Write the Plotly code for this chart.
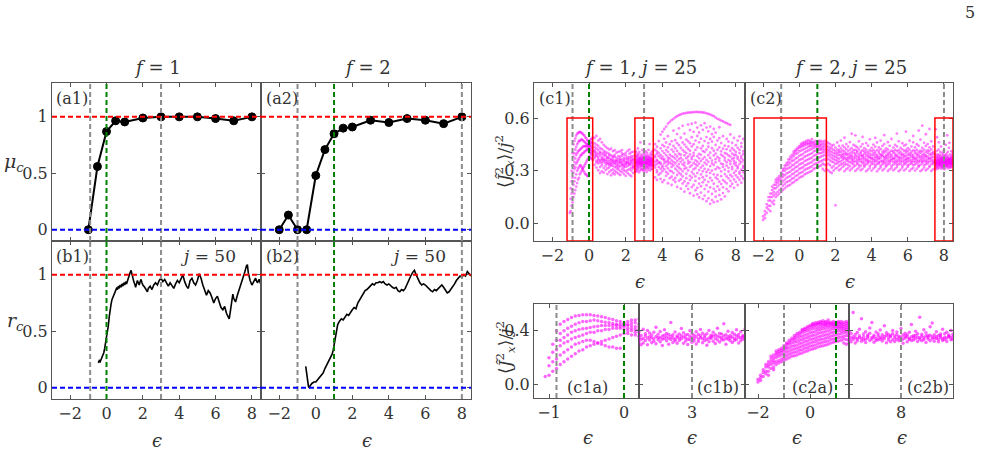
import plotly.graph_objects as go

W, H = 986, 451

# ---------------- data ----------------
a1_eps = [-1, -0.5, 0, 0.5, 1, 2, 3, 4, 5, 6, 7, 8]
a1_mu = [0.0, 0.56, 0.87, 0.965, 0.955, 0.99, 1.0, 1.0, 1.0, 0.985, 0.965, 1.0]
a2_eps = [-2, -1.5, -1, -0.5, 0, 0.5, 1, 1.5, 2, 3, 4, 5, 6, 7, 8]
a2_mu = [0.0, 0.13, 0.0, 0.0, 0.48, 0.71, 0.85, 0.90, 0.91, 0.97, 0.95, 0.985, 0.97, 0.94, 1.0]

b1_eps = [-0.45, -0.4, -0.35, -0.3, -0.25, -0.2, -0.15, -0.1, -0.05, 0.0, 0.05, 0.1, 0.15, 0.2, 0.25,
          0.3, 0.35, 0.4, 0.5, 0.55, 0.6, 0.65, 0.7, 0.75, 0.8, 0.85, 0.9, 0.95, 1.0, 1.05, 1.1, 1.15,
          1.2, 1.25, 1.3, 1.35, 1.4, 1.45, 1.5, 1.55, 1.6, 1.65, 1.7, 1.75, 1.8, 1.85, 1.9, 1.95, 2.0,
          2.1, 2.2, 2.25, 2.3, 2.4, 2.5, 2.6, 2.7, 2.8, 2.9, 3.0, 3.1, 3.2, 3.3, 3.4, 3.5, 3.6, 3.7,
          3.8, 3.9, 4.0, 4.1, 4.2, 4.3, 4.4, 4.5, 4.6, 4.7, 4.8, 4.9, 5.0, 5.1, 5.2, 5.3, 5.4, 5.5,
          5.6, 5.7, 5.8, 5.9, 6.0, 6.1, 6.2, 6.3, 6.4, 6.5, 6.6, 6.7, 6.75, 6.8, 6.9, 6.95, 7.0, 7.1,
          7.2, 7.3, 7.4, 7.5, 7.6, 7.7, 7.75, 7.8, 7.9, 8.0, 8.1, 8.2, 8.3, 8.4, 8.5]
b1_r = [0.22, 0.24, 0.23, 0.25, 0.26, 0.29, 0.31, 0.35, 0.40, 0.44, 0.48, 0.55, 0.63, 0.70, 0.74,
        0.78, 0.80, 0.82, 0.86, 0.88, 0.87, 0.90, 0.88, 0.91, 0.89, 0.92, 0.90, 0.93, 0.91, 0.94, 0.92, 0.95,
        0.97, 0.99, 1.02, 1.04, 1.0, 0.97, 0.94, 0.92, 0.89, 0.92, 0.95, 0.93, 0.91, 0.94, 0.96, 0.93, 0.91,
        0.89, 0.87, 0.85, 0.88, 0.90, 0.87, 0.91, 0.93, 0.91, 0.95, 0.97, 0.94, 0.96, 0.93, 0.90, 0.93, 0.90, 0.88,
        0.92, 0.95, 0.93, 0.97, 1.0, 0.94, 0.90, 0.88, 0.95, 0.97, 0.93, 0.91, 0.95, 1.01, 0.97, 0.91, 0.86, 0.82,
        0.86, 0.84, 0.80, 0.75, 0.79, 0.81, 0.76, 0.71, 0.69, 0.72, 0.66, 0.63, 0.61, 0.66, 0.78, 0.83, 0.79, 0.76,
        0.82, 0.87, 0.90, 0.96, 1.02, 1.08, 1.09, 1.02, 0.95, 0.91, 0.94, 0.97, 0.93, 0.96, 0.91]

b2_eps = [-0.55, -0.5, -0.45, -0.4, -0.35, -0.3, -0.2, -0.1, 0.0, 0.1, 0.2, 0.3, 0.4, 0.5, 0.6, 0.7,
          0.8, 0.9, 0.95, 1.0, 1.05, 1.1, 1.15, 1.2, 1.3, 1.4, 1.5, 1.6, 1.7, 1.8, 1.9, 2.0, 2.1, 2.2,
          2.3, 2.4, 2.5, 2.6, 2.7, 2.8, 2.9, 3.0, 3.1, 3.2, 3.3, 3.4, 3.5, 3.6, 3.7, 3.8, 3.9, 4.0, 4.1,
          4.2, 4.3, 4.4, 4.5, 4.6, 4.7, 4.8, 4.9, 5.0, 5.1, 5.2, 5.3, 5.4, 5.5, 5.6, 5.7, 5.8, 5.9, 6.0,
          6.1, 6.2, 6.3, 6.4, 6.5, 6.6, 6.7, 6.8, 6.9, 7.0, 7.1, 7.2, 7.3, 7.4, 7.5, 7.6, 7.7, 7.8, 7.9,
          8.0, 8.1, 8.2, 8.3, 8.4, 8.5]
b2_r = [0.19, 0.12, 0.05, 0.01, 0.00, 0.02, 0.04, 0.05, 0.05, 0.07, 0.09, 0.10, 0.13, 0.17, 0.20, 0.23,
        0.27, 0.30, 0.33, 0.38, 0.43, 0.48, 0.52, 0.56, 0.59, 0.61, 0.60, 0.63, 0.65, 0.64, 0.67, 0.69, 0.71, 0.70,
        0.75, 0.78, 0.80, 0.83, 0.86, 0.87, 0.89, 0.90, 0.92, 0.91, 0.93, 0.93, 0.94, 0.93, 0.94, 0.92, 0.91, 0.92, 0.90,
        0.89, 0.88, 0.89, 0.86, 0.85, 0.87, 0.86, 0.88, 0.92, 0.96, 0.99, 1.02, 1.04, 1.00, 0.96, 0.93, 0.91, 0.92, 0.91,
        0.89, 0.88, 0.86, 0.85, 0.87, 0.86, 0.88, 0.90, 0.91, 0.89, 0.87, 0.84, 0.85, 0.87, 0.90, 0.92, 0.95, 0.97, 0.99,
        0.98, 1.00, 0.99, 1.03, 1.01, 0.99]

# f=1, j=25 : eigenstate values, columns (epsilon, values)
c1_arc_cols = [
    (-1.05, [0.06]),
    (-1.0, [0.07, 0.14, 0.2]),
    (-0.95, [0.1, 0.17, 0.24, 0.3]),
    (-0.9, [0.12, 0.19, 0.26, 0.33, 0.40]),
    (-0.85, [0.15, 0.22, 0.29, 0.33, 0.38, 0.45]),
    (-0.8, [0.17, 0.24, 0.31, 0.35, 0.40, 0.47]),
    (-0.75, [0.19, 0.26, 0.32, 0.37, 0.42, 0.485]),
    (-0.7, [0.21, 0.28, 0.34, 0.39, 0.435, 0.50]),
    (-0.65, [0.23, 0.30, 0.35, 0.40, 0.45, 0.51]),
    (-0.6, [0.25, 0.31, 0.36, 0.41, 0.46, 0.515]),
    (-0.55, [0.26, 0.32, 0.37, 0.415, 0.47, 0.52]),
    (-0.5, [0.28, 0.33, 0.38, 0.42, 0.47, 0.52]),
    (-0.45, [0.29, 0.33, 0.39, 0.425, 0.475, 0.52]),
    (-0.4, [0.30, 0.32, 0.39, 0.43, 0.48, 0.515]),
    (-0.35, [0.31, 0.31, 0.40, 0.435, 0.475, 0.51]),
    (-0.3, [0.32, 0.30, 0.40, 0.44, 0.47, 0.505]),
    (-0.25, [0.29, 0.33, 0.41, 0.44, 0.465, 0.50]),
    (-0.2, [0.28, 0.34, 0.41, 0.44, 0.46, 0.49]),
    (-0.15, [0.28, 0.35, 0.42, 0.44, 0.455, 0.485]),
    (-0.1, [0.27, 0.36, 0.42, 0.44, 0.45, 0.475]),
    (-0.05, [0.27, 0.37, 0.42, 0.435, 0.45, 0.47]),
    (0.0, [0.38, 0.41, 0.43, 0.44, 0.45, 0.46]),
    (0.05, [0.38, 0.40, 0.42, 0.44, 0.45, 0.47]),
    (0.1, [0.37, 0.40, 0.42, 0.44, 0.46, 0.48]),
    (0.15, [0.37, 0.39, 0.41, 0.43, 0.46, 0.48]),
    (0.2, [0.36, 0.39, 0.41, 0.43, 0.45, 0.49]),
]
c1_band_cols = [
    (0.3, [0.334, 0.371, 0.398, 0.417, 0.436, 0.458, 0.487, 0.382, 0.409]),
    (0.4, [0.318, 0.356, 0.383, 0.404, 0.427, 0.449, 0.498, 0.391, 0.347]),
    (0.5, [0.303, 0.342, 0.367, 0.396, 0.418, 0.441, 0.472, 0.378, 0.357]),
    (0.6, [0.322, 0.349, 0.361, 0.387, 0.408, 0.429, 0.481, 0.402, 0.287]),
    (0.7, [0.297, 0.331, 0.358, 0.376, 0.397, 0.423, 0.462, 0.368, 0.343]),
    (0.8, [0.289, 0.316, 0.352, 0.369, 0.388, 0.413, 0.447, 0.361, 0.401]),
    (0.9, [0.304, 0.327, 0.341, 0.363, 0.384, 0.407, 0.438, 0.352, 0.393]),
    (1.0, [0.281, 0.313, 0.338, 0.358, 0.377, 0.402, 0.429, 0.346, 0.372]),
    (1.1, [0.293, 0.319, 0.333, 0.354, 0.371, 0.396, 0.421, 0.341, 0.386]),
    (1.2, [0.274, 0.302, 0.329, 0.347, 0.366, 0.388, 0.426, 0.337, 0.359]),
    (1.3, [0.286, 0.308, 0.327, 0.343, 0.362, 0.383, 0.412, 0.353, 0.376]),
    (1.4, [0.279, 0.298, 0.321, 0.339, 0.357, 0.379, 0.417, 0.348, 0.391]),
    (1.5, [0.291, 0.311, 0.324, 0.346, 0.361, 0.374, 0.403, 0.334, 0.356]),
    (1.6, [0.283, 0.306, 0.318, 0.341, 0.353, 0.368, 0.408, 0.329, 0.384]),
    (1.7, [0.276, 0.299, 0.326, 0.344, 0.359, 0.381, 0.411, 0.351, 0.369]),
    (1.8, [0.292, 0.312, 0.331, 0.348, 0.364, 0.386, 0.399, 0.338, 0.418]),
    (1.9, [0.281, 0.303, 0.319, 0.337, 0.354, 0.373, 0.394, 0.362, 0.328]),
    (2.0, [0.271, 0.297, 0.322, 0.336, 0.351, 0.369, 0.402, 0.344, 0.387]),
    (2.1, [0.287, 0.304, 0.327, 0.342, 0.358, 0.378, 0.413, 0.349, 0.368]),
    (2.2, [0.278, 0.309, 0.332, 0.347, 0.363, 0.376, 0.397, 0.339, 0.421]),
    (2.3, [0.269, 0.301, 0.317, 0.338, 0.356, 0.371, 0.404, 0.352, 0.383]),
    (2.4, [0.288, 0.313, 0.328, 0.343, 0.359, 0.382, 0.408, 0.324, 0.366]),
    (3.6, [0.262, 0.318, 0.331, 0.349, 0.377, 0.386, 0.421, 0.452]),
    (3.7, [0.291, 0.303, 0.339, 0.358, 0.362, 0.397, 0.411, 0.248, 0.437]),
    (3.8, [0.277, 0.322, 0.344, 0.351, 0.383, 0.402, 0.469]),
    (3.9, [0.254, 0.286, 0.311, 0.347, 0.373, 0.391, 0.428, 0.506, 0.338]),
    (4.0, [0.298, 0.319, 0.329, 0.366, 0.381, 0.412, 0.447, 0.523, 0.236]),
    (4.1, [0.247, 0.309, 0.342, 0.357, 0.368, 0.401, 0.439, 0.482, 0.538]),
    (4.2, [0.271, 0.293, 0.326, 0.351, 0.389, 0.418, 0.461, 0.552]),
    (4.3, [0.229, 0.283, 0.314, 0.337, 0.362, 0.376, 0.408, 0.433, 0.497, 0.569, 0.351]),
    (4.4, [0.258, 0.301, 0.346, 0.371, 0.392, 0.451, 0.578]),
    (4.5, [0.219, 0.266, 0.297, 0.322, 0.339, 0.359, 0.384, 0.421, 0.468, 0.588]),
    (4.6, [0.248, 0.287, 0.331, 0.351, 0.378, 0.409, 0.441, 0.529, 0.596]),
    (4.7, [0.236, 0.259, 0.312, 0.343, 0.369, 0.393, 0.428, 0.474, 0.604]),
    (4.8, [0.208, 0.276, 0.301, 0.327, 0.355, 0.382, 0.413, 0.457, 0.509, 0.611]),
    (4.9, [0.243, 0.289, 0.318, 0.338, 0.366, 0.397, 0.446, 0.617, 0.542]),
    (5.0, [0.198, 0.251, 0.279, 0.309, 0.351, 0.374, 0.392, 0.431, 0.488, 0.621]),
    (5.1, [0.227, 0.268, 0.297, 0.336, 0.362, 0.418, 0.461, 0.556, 0.625]),
    (5.2, [0.181, 0.239, 0.311, 0.329, 0.347, 0.388, 0.409, 0.449, 0.512, 0.627]),
    (5.3, [0.214, 0.258, 0.283, 0.317, 0.372, 0.401, 0.436, 0.478, 0.629]),
    (5.4, [0.196, 0.229, 0.302, 0.341, 0.357, 0.381, 0.424, 0.468, 0.563, 0.631]),
    (5.5, [0.172, 0.248, 0.271, 0.322, 0.348, 0.393, 0.414, 0.457, 0.532, 0.632]),
    (5.6, [0.207, 0.261, 0.293, 0.331, 0.366, 0.378, 0.439, 0.491, 0.568, 0.633]),
    (5.7, [0.158, 0.219, 0.281, 0.309, 0.345, 0.387, 0.402, 0.451, 0.522, 0.634]),
    (5.8, [0.189, 0.242, 0.268, 0.316, 0.337, 0.359, 0.419, 0.472, 0.574, 0.635]),
    (5.9, [0.166, 0.203, 0.287, 0.329, 0.352, 0.383, 0.433, 0.498, 0.546, 0.635]),
    (6.0, [0.148, 0.227, 0.256, 0.304, 0.341, 0.371, 0.396, 0.462, 0.518, 0.634]),
    (6.1, [0.176, 0.212, 0.279, 0.318, 0.356, 0.391, 0.428, 0.483, 0.559, 0.634]),
    (6.2, [0.139, 0.234, 0.263, 0.297, 0.329, 0.368, 0.412, 0.441, 0.533, 0.632]),
    (6.3, [0.158, 0.196, 0.248, 0.311, 0.347, 0.378, 0.407, 0.469, 0.571, 0.631]),
    (6.4, [0.127, 0.218, 0.271, 0.293, 0.336, 0.362, 0.421, 0.492, 0.546, 0.627]),
    (6.5, [0.143, 0.181, 0.237, 0.306, 0.351, 0.389, 0.437, 0.458, 0.524, 0.624]),
    (6.6, [0.112, 0.205, 0.259, 0.288, 0.327, 0.373, 0.403, 0.481, 0.552, 0.621]),
    (6.7, [0.133, 0.168, 0.244, 0.301, 0.342, 0.358, 0.429, 0.466, 0.509, 0.616]),
    (6.8, [0.121, 0.197, 0.226, 0.279, 0.333, 0.387, 0.414, 0.493, 0.538, 0.611]),
    (6.9, [0.152, 0.183, 0.261, 0.309, 0.348, 0.366, 0.398, 0.447, 0.517, 0.603]),
    (7.0, [0.126, 0.211, 0.253, 0.276, 0.321, 0.379, 0.419, 0.472, 0.596]),
    (7.1, [0.161, 0.192, 0.238, 0.314, 0.356, 0.371, 0.433, 0.486, 0.548, 0.591]),
    (7.2, [0.137, 0.224, 0.269, 0.297, 0.341, 0.392, 0.411, 0.458, 0.586]),
    (7.3, [0.173, 0.206, 0.247, 0.322, 0.337, 0.383, 0.426, 0.497, 0.581]),
    (7.4, [0.154, 0.238, 0.281, 0.306, 0.359, 0.374, 0.401, 0.443, 0.576]),
    (7.5, [0.196, 0.228, 0.268, 0.329, 0.348, 0.396, 0.422, 0.481, 0.571]),
    (7.6, [0.183, 0.257, 0.296, 0.317, 0.362, 0.387, 0.439, 0.466, 0.566]),
    (7.7, [0.212, 0.243, 0.276, 0.338, 0.353, 0.381, 0.414, 0.507, 0.561]),
    (7.8, [0.226, 0.267, 0.309, 0.322, 0.367, 0.398, 0.429, 0.459]),
    (7.9, [0.203, 0.251, 0.288, 0.341, 0.356, 0.373, 0.418, 0.487, 0.391]),
    (8.0, [0.237, 0.274, 0.299, 0.331, 0.346, 0.389, 0.407, 0.446]),
    (8.1, [0.219, 0.262, 0.314, 0.325, 0.368, 0.379, 0.431, 0.472]),
    (8.2, [0.249, 0.283, 0.293, 0.338, 0.357, 0.401, 0.419, 0.496]),
    (8.3, [0.232, 0.269, 0.306, 0.349, 0.372, 0.384, 0.437, 0.458]),
    (8.4, [0.256, 0.291, 0.318, 0.328, 0.361, 0.396, 0.412, 0.481]),
    (8.5, [0.244, 0.277, 0.312, 0.344, 0.352, 0.386, 0.428, 0.467]),
]
c1_mid_cols = [
    (2.50, [0.318, 0.352, 0.391]), (2.52, [0.337, 0.366, 0.297]), (2.54, [0.344, 0.309, 0.412]),
    (2.56, [0.361, 0.328, 0.379]), (2.58, [0.296, 0.347, 0.403]), (2.60, [0.356, 0.331, 0.384]),
    (2.62, [0.312, 0.369, 0.348]), (2.64, [0.341, 0.389, 0.322]), (2.66, [0.358, 0.304, 0.427]),
    (2.68, [0.333, 0.374, 0.351]), (2.70, [0.349, 0.318, 0.396]), (2.72, [0.291, 0.362, 0.338]),
    (2.74, [0.367, 0.343, 0.408]), (2.76, [0.326, 0.354, 0.381]), (2.78, [0.345, 0.301, 0.372]),
    (2.80, [0.359, 0.336, 0.462]), (2.82, [0.314, 0.371, 0.349]), (2.84, [0.338, 0.392, 0.327]),
    (2.86, [0.352, 0.307, 0.364]), (2.88, [0.329, 0.377, 0.346]), (2.90, [0.363, 0.341, 0.418]),
    (2.92, [0.308, 0.355, 0.386]), (2.94, [0.346, 0.324, 0.369]), (2.96, [0.372, 0.337, 0.299]),
    (2.98, [0.334, 0.358, 0.401]), (3.00, [0.351, 0.316, 0.378]), (3.02, [0.327, 0.368, 0.344]),
    (3.04, [0.357, 0.303, 0.394]), (3.06, [0.339, 0.373, 0.321]), (3.08, [0.364, 0.348, 0.411]),
    (3.10, [0.311, 0.342, 0.383]), (3.12, [0.353, 0.329, 0.367]), (3.14, [0.336, 0.379, 0.293]),
    (3.16, [0.347, 0.319, 0.402]), (3.18, [0.368, 0.343, 0.357]), (3.20, [0.323, 0.361, 0.389]),
    (3.22, [0.344, 0.306, 0.371]), (3.24, [0.359, 0.332, 0.419]), (3.26, [0.317, 0.354, 0.381]),
    (3.28, [0.349, 0.376, 0.334]), (3.30, [0.332, 0.362, 0.452]), (3.32, [0.371, 0.345, 0.301]),
    (3.34, [0.338, 0.357, 0.398]), (3.36, [0.326, 0.366, 0.347]), (3.38, [0.355, 0.313, 0.387]),
    (3.40, [0.343, 0.374, 0.328]), (3.42, [0.361, 0.335, 0.409]), (3.44, [0.309, 0.352, 0.372]),
    (3.46, [0.348, 0.327, 0.393]), (3.48, [0.365, 0.339, 0.356]), (3.50, [0.333, 0.358, 0.414]),
]

# f=2, j=25
c2_rise_cols = [
    (-2.0, [0.02, 0.04]),
    (-1.9, [0.03, 0.05, 0.07]),
    (-1.8, [0.06, 0.09, 0.11]),
    (-1.7, [0.08, 0.10, 0.13, 0.15]),
    (-1.6, [0.07, 0.10, 0.13, 0.15, 0.17]),
    (-1.5, [0.12, 0.15, 0.17, 0.19, 0.21]),
    (-1.4, [0.11, 0.13, 0.16, 0.18, 0.20, 0.22]),
    (-1.3, [0.15, 0.17, 0.20, 0.22, 0.235, 0.25]),
    (-1.2, [0.16, 0.18, 0.21, 0.23, 0.245, 0.26]),
    (-1.1, [0.17, 0.19, 0.22, 0.24, 0.255, 0.27]),
    (-1.0, [0.18, 0.20, 0.225, 0.25, 0.265, 0.28, 0.29]),
    (-0.9, [0.19, 0.215, 0.24, 0.265, 0.28, 0.30, 0.31]),
    (-0.8, [0.20, 0.225, 0.25, 0.275, 0.30, 0.315, 0.33]),
    (-0.7, [0.21, 0.235, 0.26, 0.285, 0.31, 0.33, 0.345]),
    (-0.6, [0.215, 0.24, 0.265, 0.29, 0.315, 0.335, 0.35, 0.365]),
    (-0.5, [0.22, 0.245, 0.27, 0.295, 0.32, 0.345, 0.365, 0.38]),
    (-0.4, [0.23, 0.255, 0.28, 0.305, 0.33, 0.355, 0.375, 0.39]),
    (-0.3, [0.235, 0.26, 0.285, 0.31, 0.335, 0.36, 0.385, 0.40, 0.41]),
    (-0.2, [0.245, 0.27, 0.295, 0.32, 0.345, 0.37, 0.395, 0.41, 0.42]),
    (-0.1, [0.25, 0.275, 0.30, 0.325, 0.35, 0.375, 0.40, 0.42, 0.43]),
    (0.0, [0.26, 0.285, 0.31, 0.335, 0.36, 0.385, 0.41, 0.43, 0.44]),
    (0.1, [0.265, 0.29, 0.315, 0.34, 0.365, 0.39, 0.415, 0.435, 0.445, 0.455]),
    (0.2, [0.27, 0.295, 0.32, 0.345, 0.37, 0.395, 0.42, 0.44, 0.45, 0.46]),
    (0.3, [0.28, 0.305, 0.33, 0.355, 0.38, 0.405, 0.425, 0.445, 0.455, 0.465]),
    (0.4, [0.285, 0.31, 0.335, 0.36, 0.385, 0.41, 0.43, 0.45, 0.46, 0.47]),
    (0.5, [0.29, 0.315, 0.34, 0.365, 0.39, 0.415, 0.435, 0.45, 0.46, 0.475]),
    (0.6, [0.295, 0.32, 0.345, 0.37, 0.395, 0.42, 0.44, 0.45, 0.46, 0.47]),
    (0.7, [0.30, 0.325, 0.35, 0.375, 0.40, 0.425, 0.44, 0.455, 0.465, 0.48]),
    (0.8, [0.31, 0.335, 0.36, 0.385, 0.41, 0.43, 0.445, 0.455, 0.465]),
    (0.9, [0.315, 0.34, 0.365, 0.39, 0.415, 0.435, 0.445, 0.455, 0.47]),
    (1.0, [0.32, 0.345, 0.37, 0.395, 0.42, 0.435, 0.445, 0.455, 0.465]),
    (1.1, [0.325, 0.35, 0.375, 0.40, 0.42, 0.435, 0.445, 0.46, 0.47]),
    (1.2, [0.33, 0.355, 0.38, 0.40, 0.42, 0.43, 0.445, 0.455, 0.47]),
    (1.3, [0.31, 0.34, 0.36, 0.385, 0.405, 0.42, 0.435, 0.45, 0.465]),
    (1.4, [0.30, 0.335, 0.365, 0.39, 0.41, 0.425, 0.44, 0.455, 0.47]),
    (1.5, [0.31, 0.33, 0.36, 0.38, 0.40, 0.42, 0.435, 0.45, 0.465]),
]
c2_band_cols = [
    (1.6, [0.302, 0.341, 0.368, 0.389, 0.407, 0.421, 0.438, 0.459]),
    (1.7, [0.293, 0.332, 0.359, 0.381, 0.398, 0.414, 0.431, 0.452]),
    (1.8, [0.287, 0.318, 0.352, 0.372, 0.391, 0.408, 0.427, 0.443]),
    (1.9, [0.301, 0.327, 0.348, 0.366, 0.383, 0.401, 0.419, 0.447]),
    (2.0, [0.103, 0.312, 0.339, 0.361, 0.379, 0.397, 0.412, 0.432]),
    (2.1, [0.318, 0.343, 0.357, 0.373, 0.388, 0.403, 0.421, 0.461]),
    (2.2, [0.303, 0.329, 0.351, 0.368, 0.392, 0.406, 0.418, 0.441]),
    (2.3, [0.311, 0.336, 0.354, 0.377, 0.389, 0.409, 0.428, 0.472]),
    (2.4, [0.322, 0.341, 0.362, 0.374, 0.386, 0.398, 0.416, 0.443]),
    (2.5, [0.298, 0.331, 0.348, 0.369, 0.381, 0.396, 0.411, 0.433, 0.488]),
    (2.6, [0.309, 0.338, 0.359, 0.371, 0.392, 0.401, 0.423, 0.452]),
    (2.7, [0.317, 0.334, 0.353, 0.366, 0.379, 0.394, 0.412, 0.438]),
    (2.8, [0.302, 0.327, 0.349, 0.372, 0.384, 0.399, 0.421, 0.463]),
    (2.9, [0.312, 0.342, 0.356, 0.368, 0.381, 0.391, 0.408, 0.429, 0.511]),
    (3.0, [0.321, 0.336, 0.351, 0.364, 0.378, 0.402, 0.417, 0.447]),
    (3.1, [0.299, 0.329, 0.354, 0.372, 0.387, 0.397, 0.419, 0.441, 0.502]),
    (3.2, [0.308, 0.339, 0.348, 0.363, 0.382, 0.404, 0.413, 0.434]),
    (3.3, [0.318, 0.333, 0.357, 0.369, 0.379, 0.393, 0.422, 0.468]),
    (3.4, [0.303, 0.328, 0.351, 0.366, 0.386, 0.401, 0.409, 0.438]),
    (3.5, [0.311, 0.341, 0.353, 0.371, 0.383, 0.389, 0.416, 0.452, 0.493]),
    (3.6, [0.323, 0.331, 0.347, 0.364, 0.376, 0.397, 0.411, 0.429]),
    (3.7, [0.298, 0.337, 0.356, 0.368, 0.387, 0.403, 0.421, 0.458]),
    (3.8, [0.307, 0.343, 0.352, 0.361, 0.378, 0.392, 0.408, 0.443]),
    (3.9, [0.316, 0.328, 0.354, 0.373, 0.382, 0.398, 0.417, 0.479]),
    (4.0, [0.301, 0.336, 0.349, 0.367, 0.374, 0.391, 0.412, 0.431]),
    (4.1, [0.313, 0.341, 0.357, 0.369, 0.388, 0.402, 0.419, 0.449]),
    (4.2, [0.322, 0.332, 0.351, 0.362, 0.379, 0.396, 0.409, 0.437, 0.487]),
    (4.3, [0.297, 0.338, 0.356, 0.371, 0.381, 0.389, 0.418, 0.461]),
    (4.4, [0.309, 0.342, 0.348, 0.366, 0.376, 0.401, 0.412, 0.433]),
    (4.5, [0.318, 0.329, 0.353, 0.372, 0.386, 0.394, 0.423, 0.472]),
    (4.6, [0.302, 0.337, 0.351, 0.358, 0.383, 0.392, 0.407, 0.441]),
    (4.7, [0.311, 0.343, 0.355, 0.369, 0.378, 0.403, 0.416, 0.452, 0.503]),
    (4.8, [0.324, 0.331, 0.347, 0.364, 0.377, 0.388, 0.411, 0.428]),
    (4.9, [0.299, 0.336, 0.354, 0.371, 0.387, 0.399, 0.421, 0.463]),
    (5.0, [0.308, 0.341, 0.352, 0.361, 0.379, 0.396, 0.408, 0.442]),
    (5.1, [0.317, 0.328, 0.357, 0.368, 0.382, 0.391, 0.414, 0.481]),
    (5.2, [0.303, 0.334, 0.349, 0.366, 0.373, 0.402, 0.411, 0.432]),
    (5.3, [0.312, 0.342, 0.356, 0.372, 0.386, 0.397, 0.419, 0.448]),
    (5.4, [0.321, 0.333, 0.348, 0.359, 0.381, 0.389, 0.412, 0.439, 0.512]),
    (5.5, [0.298, 0.337, 0.355, 0.369, 0.378, 0.401, 0.417, 0.468]),
    (5.6, [0.307, 0.339, 0.351, 0.364, 0.376, 0.393, 0.408, 0.431]),
    (5.7, [0.318, 0.329, 0.354, 0.371, 0.387, 0.398, 0.422, 0.457]),
    (5.8, [0.302, 0.336, 0.347, 0.362, 0.379, 0.391, 0.413, 0.443]),
    (5.9, [0.311, 0.343, 0.357, 0.368, 0.383, 0.403, 0.417, 0.449, 0.523]),
    (6.0, [0.322, 0.331, 0.352, 0.366, 0.374, 0.392, 0.411, 0.429]),
    (6.1, [0.299, 0.337, 0.356, 0.372, 0.388, 0.399, 0.421, 0.471]),
    (6.2, [0.309, 0.341, 0.349, 0.361, 0.381, 0.396, 0.409, 0.438]),
    (6.3, [0.317, 0.332, 0.354, 0.369, 0.378, 0.389, 0.416, 0.462, 0.498]),
    (6.4, [0.301, 0.336, 0.351, 0.365, 0.373, 0.401, 0.412, 0.433]),
    (6.5, [0.312, 0.342, 0.357, 0.371, 0.386, 0.397, 0.419, 0.451]),
    (6.6, [0.323, 0.329, 0.348, 0.358, 0.379, 0.392, 0.408, 0.442, 0.529]),
    (6.7, [0.298, 0.334, 0.355, 0.369, 0.382, 0.402, 0.414, 0.478]),
    (6.8, [0.306, 0.343, 0.352, 0.364, 0.377, 0.391, 0.411, 0.431, 0.557]),
    (6.9, [0.318, 0.331, 0.356, 0.371, 0.386, 0.398, 0.421, 0.459]),
    (7.0, [0.303, 0.337, 0.349, 0.361, 0.379, 0.389, 0.409, 0.441, 0.508]),
    (7.1, [0.311, 0.341, 0.354, 0.368, 0.381, 0.403, 0.417, 0.452]),
    (7.2, [0.321, 0.328, 0.351, 0.366, 0.374, 0.393, 0.412, 0.433, 0.538]),
    (7.3, [0.299, 0.336, 0.357, 0.372, 0.387, 0.399, 0.422, 0.468]),
    (7.4, [0.308, 0.342, 0.348, 0.359, 0.378, 0.396, 0.408, 0.439]),
]
c2_end_cols = [
    (7.50, [0.331, 0.362, 0.398]), (7.52, [0.347, 0.318, 0.381]), (7.54, [0.356, 0.336, 0.536]),
    (7.56, [0.309, 0.372, 0.349]), (7.58, [0.341, 0.388, 0.327]), (7.60, [0.363, 0.351, 0.412]),
    (7.62, [0.322, 0.344, 0.491]), (7.64, [0.357, 0.376, 0.334]), (7.66, [0.338, 0.313, 0.393]),
    (7.68, [0.369, 0.347, 0.359]), (7.70, [0.328, 0.382, 0.421]), (7.72, [0.351, 0.339, 0.462]),
    (7.74, [0.316, 0.367, 0.354]), (7.76, [0.343, 0.391, 0.329]), (7.78, [0.361, 0.334, 0.378]),
    (7.80, [0.337, 0.352, 0.407]), (7.82, [0.324, 0.371, 0.346]), (7.84, [0.358, 0.342, 0.438]),
    (7.86, [0.312, 0.366, 0.386]), (7.88, [0.349, 0.331, 0.373]), (7.90, [0.365, 0.356, 0.319]),
    (7.92, [0.333, 0.378, 0.402]), (7.94, [0.347, 0.321, 0.361]), (7.96, [0.371, 0.338, 0.392]),
    (7.98, [0.326, 0.358, 0.347]), (8.00, [0.354, 0.332, 0.417]), (8.02, [0.339, 0.369, 0.308]),
    (8.04, [0.362, 0.346, 0.383]), (8.06, [0.318, 0.357, 0.371]), (8.08, [0.344, 0.389, 0.336]),
    (8.10, [0.356, 0.329, 0.448]), (8.12, [0.331, 0.364, 0.352]), (8.14, [0.367, 0.343, 0.397]),
    (8.16, [0.321, 0.353, 0.379]), (8.18, [0.348, 0.337, 0.502]), (8.20, [0.359, 0.374, 0.326]),
    (8.22, [0.336, 0.348, 0.408]), (8.24, [0.314, 0.362, 0.385]), (8.26, [0.352, 0.339, 0.366]),
    (8.28, [0.368, 0.327, 0.431]), (8.30, [0.341, 0.356, 0.459]), (8.32, [0.323, 0.371, 0.349]),
    (8.34, [0.357, 0.344, 0.394]), (8.36, [0.337, 0.366, 0.318]), (8.38, [0.364, 0.351, 0.377]),
    (8.40, [0.329, 0.342, 0.412]), (8.42, [0.353, 0.378, 0.336]), (8.44, [0.346, 0.321, 0.389]),
    (8.46, [0.369, 0.357, 0.361]), (8.48, [0.334, 0.348, 0.403]), (8.50, [0.358, 0.338, 0.374]),
]

# critical points / markers
f1_gray = [-0.9, 3.0]
f1_green = 0.0
f2_gray = [-1.0, 8.0]
f2_green = 1.0

# zoom windows for insets
c1a_range = [-1.2, 0.2]
c1b_range = [2.5, 3.5]
c2a_range = [-2.5, 1.5]
c2b_range = [7.5, 8.5]
inset_yrange = [-0.1, 0.6]


def flatten(*groups):
    xs, ys = [], []
    for cols in groups:
        for e, vals in cols:
            for v in vals:
                xs.append(e)
                ys.append(v)
    return xs, ys


c1_x, c1_y = flatten(c1_arc_cols, c1_band_cols, c1_mid_cols)
c2_x, c2_y = flatten(c2_rise_cols, c2_band_cols, c2_end_cols)

# ---------------- layout helpers ----------------
FONT = "DejaVu Serif"
TXT = "#333333"
AX = "#555555"
MINUS = "\u2212"


def lab(v):
    s = ("%g" % v)
    return s.replace("-", MINUS)


def px_x(a, b):
    return [a / W, b / W]


def px_y(top, bottom):
    return [1 - bottom / H, 1 - top / H]


panels = {
    1: ((52, 261), (83, 241), [-3, 8.5], [-0.1, 1.3], [-2, 0, 2, 4, 6, 8], False, [0, 0.5, 1], True, "%g"),
    2: ((261, 471), (83, 241), [-3, 8.5], [-0.1, 1.3], [-2, 0, 2, 4, 6, 8], False, [0, 0.5, 1], False, "%g"),
    3: ((52, 261), (241, 399), [-3, 8.5], [-0.1, 1.3], [-2, 0, 2, 4, 6, 8], True, [0, 0.5, 1], True, "%g"),
    4: ((261, 471), (241, 399), [-3, 8.5], [-0.1, 1.3], [-2, 0, 2, 4, 6, 8], True, [0, 0.5, 1], False, "%g"),
    5: ((534, 745), (83, 241), [-3, 8.5], [-0.1, 0.8], [-2, 0, 2, 4, 6, 8], True, [0, 0.3, 0.6], True, "%.1f"),
    6: ((745, 953), (83, 241), [-3, 8.5], [-0.1, 0.8], [-2, 0, 2, 4, 6, 8], True, [0, 0.3, 0.6], False, "%.1f"),
    7: ((534, 639), (304, 398), c1a_range, inset_yrange, [-1, 0], True, [0, 0.4], True, "%.1f"),
    8: ((639, 745), (304, 398), c1b_range, inset_yrange, [3], True, [0, 0.4], False, "%.1f"),
    9: ((745, 849), (304, 398), c2a_range, inset_yrange, [-2, 0], True, [0, 0.4], False, "%.1f"),
    10: ((849, 953), (304, 398), c2b_range, inset_yrange, [8], True, [0, 0.4], False, "%.1f"),
}

layout = dict(
    width=W, height=H, autosize=False,
    margin=dict(l=0, r=0, t=0, b=0),
    paper_bgcolor="white", plot_bgcolor="white",
    showlegend=False,
    font=dict(family=FONT, color=TXT, size=16),
)


def sfx(i):
    return "" if i == 1 else str(i)


for i, (xp, yp, xr, yr, xt, xl, yt, yl, yfmt) in panels.items():
    common = dict(showgrid=False, zeroline=False, showline=True, linecolor=AX, linewidth=1,
                  mirror="ticks", ticks="inside", ticklen=4, tickwidth=1, tickcolor=AX,
                  tickfont=dict(family=FONT, size=16, color=TXT))
    layout["xaxis" + sfx(i)] = dict(common, domain=px_x(*xp), range=xr, anchor="y" + sfx(i),
                                    tickvals=xt, ticktext=[lab(v) for v in xt], showticklabels=xl)
    layout["yaxis" + sfx(i)] = dict(common, domain=px_y(*yp), range=yr, anchor="x" + sfx(i),
                                    tickvals=yt, ticktext=[(yfmt % v).replace("-", MINUS) for v in yt],
                                    showticklabels=yl)

fig = go.Figure()
fig.update_layout(**layout)


def ax(i):
    return dict(xaxis="x" + sfx(i), yaxis="y" + sfx(i))


for i, (xs, ys) in ((1, (a1_eps, a1_mu)), (2, (a2_eps, a2_mu))):
    fig.add_trace(go.Scatter(x=xs, y=ys, mode="lines+markers",
                             line=dict(color="black", width=2),
                             marker=dict(color="black", size=8, line=dict(color="black", width=1)),
                             hoverinfo="skip", **ax(i)))
for i, (xs, ys) in ((3, (b1_eps, b1_r)), (4, (b2_eps, b2_r))):
    fig.add_trace(go.Scatter(x=xs, y=ys, mode="lines", line=dict(color="black", width=1.6),
                             hoverinfo="skip", **ax(i)))
for i, (xs, ys) in ((5, (c1_x, c1_y)), (6, (c2_x, c2_y))):
    fig.add_trace(go.Scatter(x=xs, y=ys, mode="markers",
                             marker=dict(color="rgba(255,0,255,0.5)", size=2.8, line=dict(width=0)),
                             hoverinfo="skip", **ax(i)))
for i, (xs, ys) in ((7, (c1_x, c1_y)), (8, (c1_x, c1_y)), (9, (c2_x, c2_y)), (10, (c2_x, c2_y))):
    fig.add_trace(go.Scatter(x=xs, y=ys, mode="markers",
                             marker=dict(color="rgba(255,0,255,0.6)", size=3.5, line=dict(width=0)),
                             hoverinfo="skip", **ax(i)))

DASH = "5px,3px"
shapes = []


def vline(i, x, color):
    shapes.append(dict(type="line", xref="x" + sfx(i), yref="y" + sfx(i) + " domain",
                       x0=x, x1=x, y0=0, y1=1, layer="above",
                       line=dict(color=color, width=2, dash=DASH)))


def hline(i, y, color):
    shapes.append(dict(type="line", xref="x" + sfx(i) + " domain", yref="y" + sfx(i),
                       x0=0, x1=1, y0=y, y1=y, layer="above",
                       line=dict(color=color, width=2, dash=DASH)))


GRAY = "#8c8c8c"
GREEN = "#008000"
for i in (1, 3, 5, 7, 8):
    for g in f1_gray:
        vline(i, g, GRAY)
    vline(i, f1_green, GREEN)
for i in (2, 4, 6, 9, 10):
    for g in f2_gray:
        vline(i, g, GRAY)
    vline(i, f2_green, GREEN)
for i in (1, 2, 3, 4):
    hline(i, 1, "red")
    hline(i, 0, "blue")

for rng in (c1a_range, c1b_range):
    shapes.append(dict(type="rect", xref="x5", yref="y5", x0=rng[0], x1=rng[1],
                       y0=inset_yrange[0], y1=inset_yrange[1], layer="above",
                       line=dict(color="red", width=1.5), fillcolor="rgba(0,0,0,0)"))
for rng in (c2a_range, c2b_range):
    shapes.append(dict(type="rect", xref="x6", yref="y6", x0=rng[0], x1=rng[1],
                       y0=inset_yrange[0], y1=inset_yrange[1], layer="above",
                       line=dict(color="red", width=1.5), fillcolor="rgba(0,0,0,0)"))

fig.update_layout(shapes=shapes)

ann = []


def text(x, y, s, size=16, xanchor="center", angle=0):
    ann.append(dict(x=x / W, y=1 - y / H, xref="paper", yref="paper", text=s, showarrow=False,
                    xanchor=xanchor, yanchor="middle", textangle=angle,
                    font=dict(family=FONT, size=size, color=TXT)))


text(157, 67, "<i>f</i> = 1", 18)
text(367, 67, "<i>f</i> = 2", 18)
text(640, 67, "<i>f</i> = 1, <i>j</i> = 25", 18)
text(850, 67, "<i>f</i> = 2, <i>j</i> = 25", 18)
text(970, 12, "5", 16)

text(54, 98, "(a1)", 16, "left")
text(264, 98, "(a2)", 16, "left")
text(54, 256, "(b1)", 16, "left")
text(264, 256, "(b2)", 16, "left")
text(537, 98, "(c1)", 16, "left")
text(748, 98, "(c2)", 16, "left")
text(208, 256, "<i>j</i> = 50", 17)
text(418, 256, "<i>j</i> = 50", 17)
text(587, 387, "(c1a)", 16)
text(718, 387, "(c1b)", 16)
text(812, 387, "(c2a)", 16)
text(928, 387, "(c2b)", 16)

text(14, 163, "<i>μ</i><sub><i>c</i></sub>", 19)
text(15, 321, "<i>r</i><sub><i>c</i></sub>", 19)
JLAB = "⟨<i>Ĵ</i><sup>2</sup><sub><i>x</i></sub>⟩/<i>j</i><sup>2</sup>"
text(505, 162, JLAB, 17, angle=-90)
text(505, 348, JLAB, 17, angle=-90)

for x, y in ((157, 440), (367, 440), (640, 281), (850, 281), (588, 437), (692, 437), (797, 437), (902, 437)):
    text(x, y, "<i>ϵ</i>", 18)

fig.update_layout(annotations=ann)
fig.write_html("out.html")
